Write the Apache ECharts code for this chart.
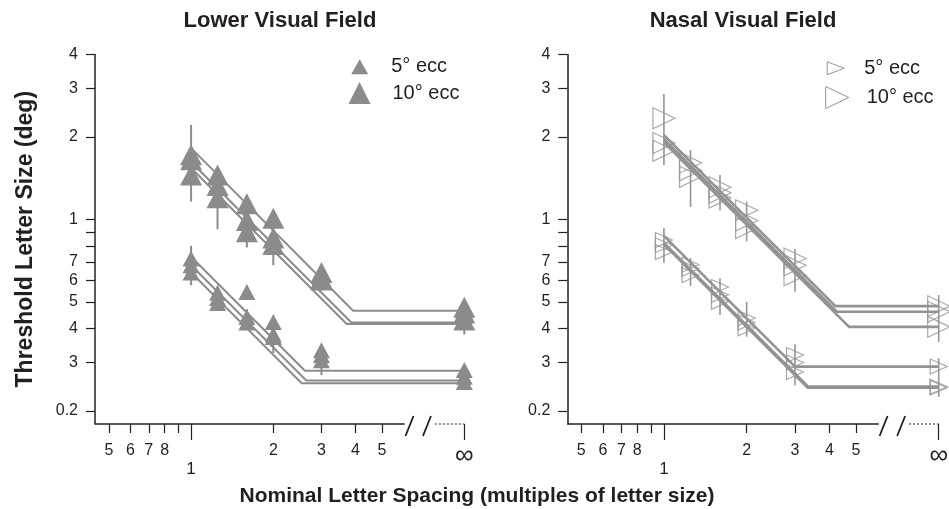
<!DOCTYPE html>
<html><head><meta charset="utf-8">
<script src="https://cdn.jsdelivr.net/npm/echarts@6/dist/echarts.min.js"></script>
<style>html,body{margin:0;padding:0;background:#fff}#c{width:949px;height:509px}</style>
</head><body><div id="c"></div>
<script>
// ---------- data ----------
const spacings = [1, 1.25, 1.6, 2, 3, 10];          // last value (10) is plotted as "∞"
const yTicks = [0.2,0.3,0.4,0.5,0.6,0.7,0.8,0.9,1,2,3,4];
const yLabels = [0.2,0.3,0.4,0.5,0.6,0.7,1,2,3,4];
const xMinorTicks = [0.5,0.6,0.7,0.8,0.9,2,3,4,5];
const xMinorLabels = [0.5,0.6,0.7,0.8,2,3,4,5];
const xLongTicks = [1, 10];

// Lower visual field: three observers per spacing
const lowerEcc10 = [[1.72,1.65,1.45],[1.45,1.33,1.20],[1.14,0.99,0.90],[1.01,0.855,0.81],[0.64,0.61,0.60],[0.478,0.455,0.429]];
const lowerEcc5  = [[0.72,0.68,0.64],[0.54,0.516,0.495],[0.543,0.44,0.42],[0.422,0.38,0.372],[0.333,0.32,0.306],[0.282,0.266,0.255]];
const lowerErr10 = [[1,1.16,2.21],[1.25,0.92,1.45],[1.6,0.79,1.10],[2,0.68,0.95],[3,0.55,0.66],[10,0.38,0.48]];
const lowerErr5  = [[1,0.575,0.80],[1.25,0.47,0.55],[1.6,0.40,0.47],[2,0.325,0.43],[3,0.27,0.34],[10,0.238,0.29]];
const lowerFits = [
  [[1,1.82],[3.92,0.464],[10,0.464]],
  [[1,1.62],[3.86,0.420],[10,0.420]],
  [[1,1.54],[3.71,0.415],[10,0.415]],
  [[1,0.73],[2.61,0.280],[10,0.280]],
  [[1,0.68],[2.64,0.258],[10,0.258]],
  [[1,0.64],[2.54,0.252],[10,0.252]]
];

// Nasal visual field
const nasalEcc10 = [[2.34,1.90,1.78],[1.61,1.51,1.43],[1.31,1.25,1.20],[1.08,0.99,0.93],[0.72,0.68,0.625],[0.482,0.46,0.405]];
const nasalEcc5  = [[0.84,0.805,0.76],[0.683,0.66,0.626],[0.566,0.53,0.50],[0.436,0.42,0.40],[0.32,0.30,0.277],[0.29,0.245,0.243]];
const nasalErr10 = [[1,1.58,2.87],[1.25,1.11,1.79],[1.6,1.08,1.45],[2,0.83,1.16],[3,0.544,0.78],[10,0.357,0.529]];
const nasalErr5  = [[1,0.694,0.93],[1.25,0.571,0.722],[1.6,0.447,0.609],[2,0.373,0.50],[3,0.248,0.35],[10,0.225,0.311]];
const nasalFits = [
  [[1,2.03],[4.21,0.482],[10,0.482]],
  [[1,1.96],[4.26,0.460],[10,0.460]],
  [[1,1.91],[4.72,0.405],[10,0.405]],
  [[1,0.87],[3.00,0.290],[10,0.290]],
  [[1,0.82],[3.35,0.245],[10,0.245]],
  [[1,0.81],[3.33,0.243],[10,0.243]]
];

// axis extents and the broken-axis section
const X_MIN = 0.445, X_MAX = 10, Y_MIN = 0.179, Y_MAX = 4;
const AXIS_SOLID_END = 6.05, AXIS_DOT_START = 7.8, BREAK_MARKS = [6.3, 7.3];

// ---------- styling ----------
const FONT = '"Liberation Sans", Arial, Helvetica, sans-serif';
const TXT = '#231f20';
const MARK = '#8a8b8d';
const LINE_L = '#8c8c8c';
const LINE_R = '#939393';
const OPEN = '#959595';
const RIGHT_TRI = 'path://M0,0L10,5L0,10Z';

function fmtTick(v) {
  if (Math.abs(v - 0.2) < 1e-9) return '0.2';
  if (v < 1) return String(Math.round(v * 10));
  return String(Math.round(v));
}
const pts = (vals) => spacings.flatMap((x, i) => vals[i].map(v => [x, v]));

function xAxesFor(g) {
  const base = {type:'log', logBase:10, min:X_MIN, max:X_MAX, gridIndex:g, position:'bottom',
    axisLine:{show:false}, splitLine:{show:false}, minorTick:{show:false}};
  const tickStyle = {color:TXT, width:1.2};
  return [
    {...base, axisTick:{show:true, customValues:xMinorTicks, length:9, lineStyle:tickStyle},
      axisLabel:{show:true, customValues:xMinorLabels, formatter:fmtTick, margin:19, fontSize:16, color:TXT, fontFamily:FONT}},
    {...base, axisTick:{show:true, customValues:[xLongTicks[0]], length:16, lineStyle:tickStyle},
      axisLabel:{show:true, customValues:[xLongTicks[0]], formatter:() => '1', margin:37, fontSize:17, color:TXT, fontFamily:FONT}},
    {...base, axisTick:{show:true, customValues:[xLongTicks[1]], length:16, lineStyle:tickStyle},
      axisLabel:{show:true, customValues:[xLongTicks[1]], formatter:() => '\u221E', margin:19, fontSize:26, color:TXT, fontFamily:FONT}}
  ];
}
function yAxisFor(g, withName) {
  const a = {type:'log', logBase:10, min:Y_MIN, max:Y_MAX, gridIndex:g,
    axisLine:{show:true, lineStyle:{color:TXT, width:1.5}}, splitLine:{show:false}, minorTick:{show:false},
    axisTick:{show:true, customValues:yTicks, length:9, lineStyle:{color:TXT, width:1.2}},
    axisLabel:{show:true, customValues:yLabels, formatter:fmtTick, margin:17, fontSize:16, color:TXT, fontFamily:FONT}};
  if (withName) {
    a.name = 'Threshold Letter Size (deg)';
    a.nameLocation = 'middle';
    a.nameRotate = 90;
    a.nameGap = 58;
    a.nameTextStyle = {fontSize:23, fontWeight:'bold', color:TXT, fontFamily:FONT};
  }
  return a;
}

function seriesFor(g, d) {
  const xi = g * 3, yi = g;
  const open = d.open;
  const s = [];
  s.push({type:'line', xAxisIndex:xi, yAxisIndex:yi, data:[[X_MIN,Y_MIN],[AXIS_SOLID_END,Y_MIN]],
    symbol:'none', clip:false, silent:true, z:5, lineStyle:{color:TXT, width:1.5}});
  s.push({type:'line', xAxisIndex:xi, yAxisIndex:yi, data:[[AXIS_DOT_START,Y_MIN],[X_MAX,Y_MIN]],
    symbol:'none', clip:false, silent:true, z:5, lineStyle:{color:TXT, width:1, type:[2,2]}});
  s.push({type:'custom', xAxisIndex:xi, yAxisIndex:yi, data:BREAK_MARKS.map(v => [v, Y_MIN]), clip:false, silent:true, z:5,
    encode:{x:0, y:1},
    renderItem:(p, api) => {
      const c = api.coord([api.value(0), api.value(1)]);
      return {type:'line', shape:{x1:c[0]-4, y1:c[1]+12, x2:c[0]+4, y2:c[1]-8}, style:{stroke:TXT, lineWidth:1.8}};
    }});
  d.fits.forEach(f => s.push({type:'line', xAxisIndex:xi, yAxisIndex:yi, data:f, symbol:'none', clip:false, silent:true,
    z:2, lineStyle:{color: open ? LINE_R : LINE_L, width: open ? 2.6 : 2}}));
  s.push({type:'custom', xAxisIndex:xi, yAxisIndex:yi, data:d.err10.concat(d.err5), clip:false, silent:true, z:3,
    encode:{x:0, y:[1,2]},
    renderItem:(p, api) => {
      const a = api.coord([api.value(0), api.value(1)]);
      const b = api.coord([api.value(0), api.value(2)]);
      return {type:'line', shape:{x1:a[0], y1:a[1], x2:b[0], y2:b[1]},
        style:{stroke: open ? OPEN : MARK, lineWidth: open ? 1.6 : 2}};
    }});
  const mk = (name, vals, size) => ({
    type:'scatter', name, xAxisIndex:xi, yAxisIndex:yi, data:pts(vals), clip:false, z:4,
    symbol: open ? RIGHT_TRI : 'triangle', symbolSize:size,
    itemStyle: open ? {color:'rgba(255,255,255,0)', borderColor:OPEN, borderWidth:1.2} : {color:MARK, opacity:1}
  });
  s.push(mk('5° ecc', d.ecc5, open ? [17,15] : [17,16]));
  s.push(mk('10° ecc', d.ecc10, [22,21]));
  return s;
}

const lowerPanel = {fits:lowerFits, err10:lowerErr10, err5:lowerErr5, ecc10:lowerEcc10, ecc5:lowerEcc5, open:false};
const nasalPanel = {fits:nasalFits, err10:nasalErr10, err5:nasalErr5, ecc10:nasalEcc10, ecc5:nasalEcc5, open:true};

function legendItem(name, left, top, w, h, icon, style, pad) {
  return {left, top, orient:'vertical', padding:0, selectedMode:false, symbolKeepAspect:false,
    itemWidth:w, itemHeight:h,
    textStyle:{fontSize:20, lineHeight:22, color:TXT, fontFamily:FONT, padding:[0,0,0,pad]},
    data:[{name, icon, itemStyle:style}]};
}
const filled = {color:MARK, borderWidth:0};
const outline = {color:'rgba(255,255,255,0)', borderColor:OPEN, borderWidth:1};

const option = {
  animation:false,
  backgroundColor:'#fff',
  title:[
    {text:'Lower Visual Field', left:280, top:10, padding:0, textAlign:'center',
      textStyle:{fontSize:22, fontWeight:'bold', color:TXT, fontFamily:FONT}},
    {text:'Nasal Visual Field', left:743, top:10, padding:0, textAlign:'center',
      textStyle:{fontSize:22, fontWeight:'bold', color:TXT, fontFamily:FONT}},
    {text:'Nominal Letter Spacing (multiples of letter size)', left:477, top:486, padding:0, textAlign:'center',
      textStyle:{fontSize:21, fontWeight:'bold', color:TXT, fontFamily:FONT}}
  ],
  legend:[
    legendItem('5° ecc', 351.2, 55.7, 17, 15, 'triangle', filled, 18),
    legendItem('10° ecc', 348.5, 82, 22, 22, 'triangle', filled, 17),
    legendItem('5° ecc', 826.7, 57.3, 17, 13, RIGHT_TRI, outline, 15),
    legendItem('10° ecc', 825.2, 86, 23, 22, RIGHT_TRI, outline, 13)
  ],
  grid:[
    {left:95, top:54.4, width:369.3, height:369.6, containLabel:false, outerBoundsMode:'none'},
    {left:567.3, top:54.4, width:371.4, height:369.6, containLabel:false, outerBoundsMode:'none'}
  ],
  xAxis: xAxesFor(0).concat(xAxesFor(1)),
  yAxis: [yAxisFor(0, true), yAxisFor(1, false)],
  series: seriesFor(0, lowerPanel).concat(seriesFor(1, nasalPanel))
};

const chart = echarts.init(document.getElementById('c'), null, {renderer:'canvas'});
chart.setOption(option);
</script>
</body></html>
